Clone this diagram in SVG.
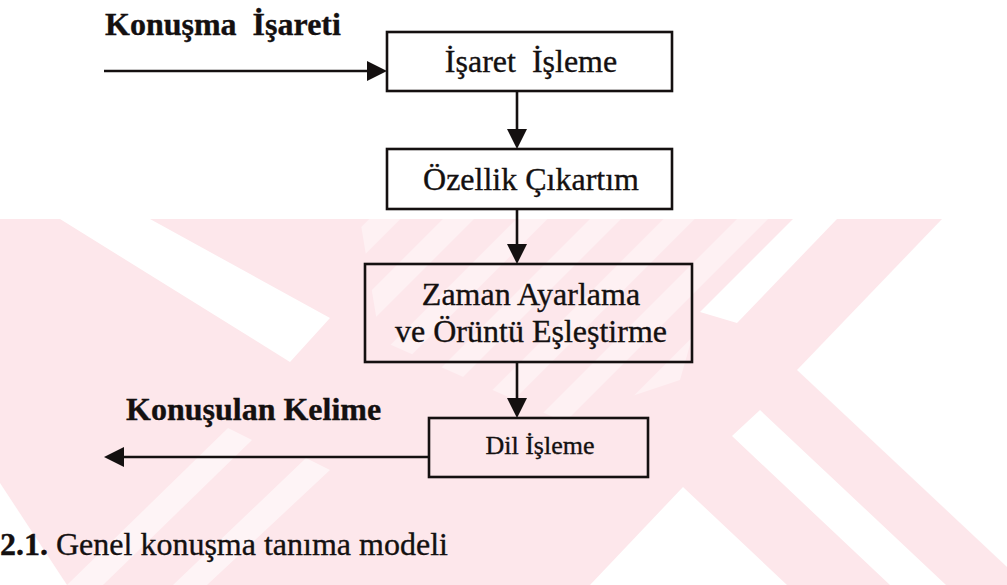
<svg xmlns="http://www.w3.org/2000/svg" width="1007" height="585" viewBox="0 0 1007 585">
  <defs>
    <style>
      .box{fill:none;stroke:#141010;stroke-width:2.6}
      .conn{fill:none;stroke:#141010;stroke-width:2.6}
      .lbl{font-family:"Liberation Serif","Times New Roman",serif;fill:#141010;stroke:#141010;stroke-width:0.35}
      .bold{font-weight:bold}
      .wm{fill:#fde7eb}
      .gap{fill:#ffffff}
      .light{fill:#ffffff;opacity:0.55}
    </style>
    <marker id="ah" viewBox="0 0 20 20" markerWidth="20" markerHeight="20" refX="10" refY="10" orient="auto" markerUnits="userSpaceOnUse">
      <path d="M0,0 L20,10 L0,20 Z" fill="#141010"/>
    </marker>
    <pattern id="softStripes" patternUnits="userSpaceOnUse" width="52" height="52" patternTransform="rotate(45)">
      <rect x="0" y="0" width="22" height="52" fill="#ffffff" opacity="0.4"/>
    </pattern>
  </defs>

  <rect x="0" y="0" width="1007" height="585" fill="#ffffff"/>

  <!-- background watermark: pink field with white slits and lighter bands -->
  <g id="watermark">
    <rect class="wm" x="0" y="219" width="1007" height="366"/>
    <polygon fill="url(#softStripes)" points="360,219 793,219 700,310 680,380 560,420 380,340"/>
    <polygon class="gap" points="60,219 150,219 330,318 290,362"/>
    <polygon class="gap" points="793,219 837,219 737,323 700,312"/>
    <polygon class="gap" points="942,219 1007,219 1007,567 797,370"/>
    <polygon class="gap" points="760,410 946,585 890,585 732,436"/>
    <polygon class="gap" points="683,487 787,585 590,585"/>
    <polygon class="gap" points="0,483 67,585 0,585"/>
    <polygon class="light" points="67,585 103,585 252,440 228,428"/>
    <polygon class="light" points="173,585 207,585 330,470 306,458"/>
  </g>

  <!-- connectors -->
  <g id="connectors">
    <line class="conn" x1="104" y1="71" x2="377" y2="71" marker-end="url(#ah)"/>
    <line class="conn" x1="517" y1="91" x2="517" y2="139" marker-end="url(#ah)"/>
    <line class="conn" x1="517" y1="209" x2="517" y2="254" marker-end="url(#ah)"/>
    <line class="conn" x1="517" y1="362" x2="517" y2="408" marker-end="url(#ah)"/>
    <line class="conn" x1="429" y1="457" x2="114" y2="457" marker-end="url(#ah)"/>
  </g>

  <g id="label-input">
    <text class="lbl bold" x="105" y="35" font-size="32">Konuşma <tspan dx="8">İşareti</tspan></text>
  </g>

  <g id="node-isaret-isleme">
    <rect class="box" x="387" y="32" width="285" height="59"/>
    <text class="lbl" x="531" y="72" font-size="32" text-anchor="middle">İşaret <tspan dx="8">İşleme</tspan></text>
  </g>

  <g id="node-ozellik">
    <rect class="box" x="387" y="149" width="285" height="60"/>
    <text class="lbl" x="531" y="190" font-size="32" text-anchor="middle">Özellik Çıkartım</text>
  </g>

  <g id="node-zaman">
    <rect class="box" x="365" y="264" width="327" height="98"/>
    <text class="lbl" x="531" y="305" font-size="32" text-anchor="middle">Zaman Ayarlama</text>
    <text class="lbl" x="531" y="342" font-size="32" text-anchor="middle">ve Örüntü Eşleştirme</text>
  </g>

  <g id="node-dil">
    <rect class="box" x="429" y="418" width="219" height="59"/>
    <text class="lbl" x="540" y="454" font-size="26" text-anchor="middle">Dil İşleme</text>
  </g>

  <g id="label-output">
    <text class="lbl bold" x="126" y="420" font-size="32">Konuşulan Kelime</text>
  </g>

  <g id="caption">
    <text class="lbl" x="0" y="555" font-size="32" font-family="Liberation Serif, Times New Roman, serif"><tspan font-weight="bold">2.1.</tspan> Genel konuşma tanıma modeli</text>
  </g>
</svg>
